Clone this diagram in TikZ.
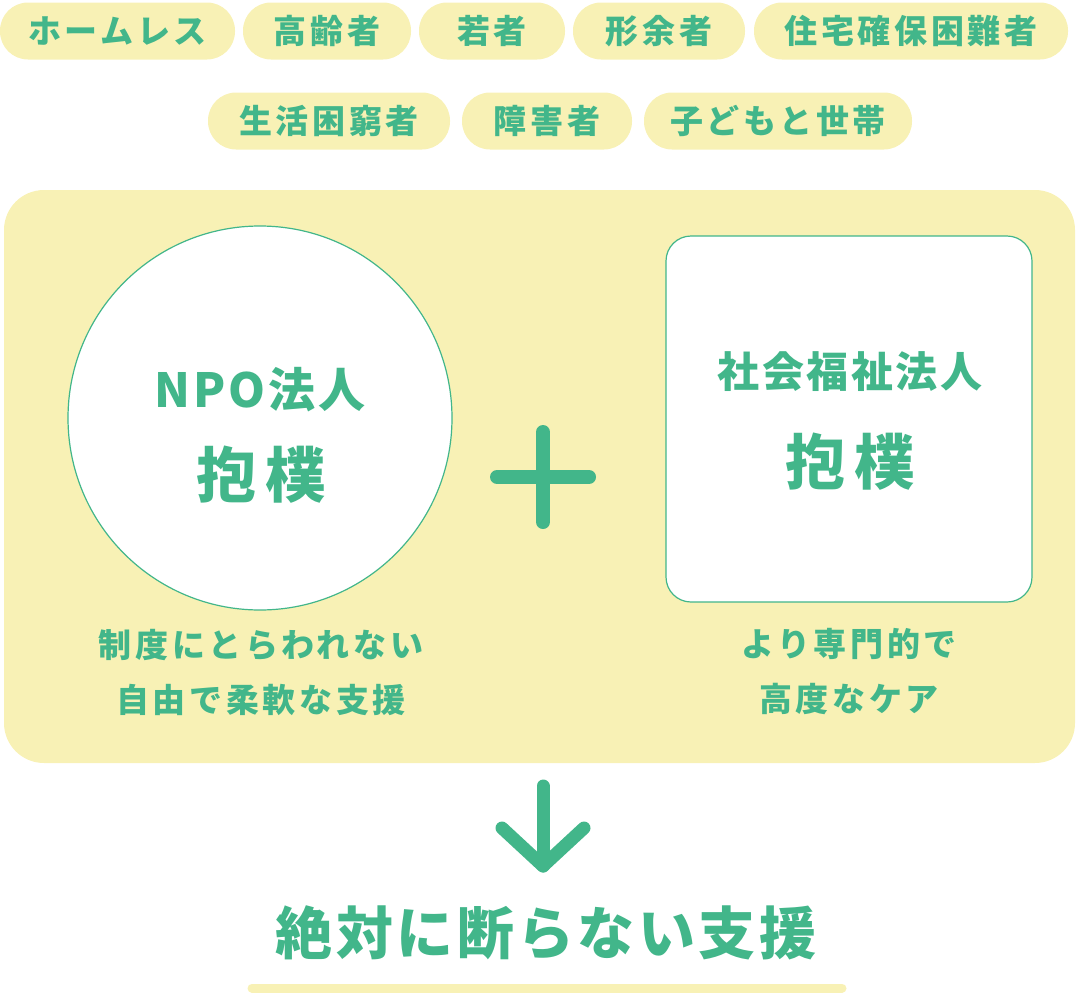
\documentclass[tikz,border=0pt]{standalone}
\usepackage{fontspec}
\newfontfamily\cjk{Noto Sans CJK JP}
\newfontfamily\cjkA{Noto Sans CJK JP}[LetterSpace=11]
\newfontfamily\cjkB{Noto Sans CJK JP}[LetterSpace=16]
\newfontfamily\cjkC{Noto Sans CJK JP}[LetterSpace=6]
\definecolor{grn}{HTML}{42B68A}
\definecolor{yel}{HTML}{F8F1B5}
\begin{document}
\begin{tikzpicture}[x=1pt,y=-1pt,
 pill/.style={fill=yel,rounded corners=28pt,minimum height=57pt,inner sep=0pt,text=grn,font=\cjkA\bfseries\fontsize{33}{38}\selectfont},
 txt/.style={text=grn,inner sep=0pt,align=center},
 big/.style={line width=14pt,line cap=round,line join=round,draw=grn}]
\useasboundingbox (0,0) rectangle (1076,996);
\node[pill,minimum width=235pt] (p1) at (117.5,31) {ホームレス};
\node[pill,minimum width=168pt] (p2) at (327,31) {高齢者};
\node[pill,minimum width=146pt] (p3) at (492,31) {若者};
\node[pill,minimum width=172pt] (p4) at (659,31) {形余者};
\node[pill,minimum width=314pt] (p5) at (911,31) {住宅確保困難者};
\node[pill,minimum width=242pt] (p6) at (329,121) {生活困窮者};
\node[pill,minimum width=170pt] (p7) at (547,121) {障害者};
\node[pill,minimum width=268pt] (p8) at (778,121) {子どもと世帯};
\node[fill=yel,rounded corners=40pt,minimum width=1071pt,minimum height=573pt,inner sep=0pt] (box) at (539.5,476.5) {};
\node[circle,draw=grn,line width=1.2pt,fill=white,minimum size=384pt,inner sep=0pt] (npo) at (260,418) {};
\node[txt,font=\cjkC\bfseries\fontsize{47}{54}\selectfont] (npot) at (260,390) {NPO法人};
\node[txt,font=\cjkB\bfseries\fontsize{60}{68}\selectfont] (npon) at (261,475) {抱樸};
\node[draw=grn,line width=1.2pt,fill=white,rounded corners=25pt,minimum size=366pt,inner sep=0pt] (sha) at (849,419) {};
\node[txt,font=\cjkC\bfseries\fontsize{42}{48}\selectfont] (shat) at (850,372) {社会福祉法人};
\node[txt,font=\cjkB\bfseries\fontsize{60}{68}\selectfont] (shan) at (850,462) {抱樸};
\coordinate (pl) at (497,477); \coordinate (pr) at (589,477);
\coordinate (pt) at (543,432); \coordinate (pb) at (543,522);
\draw[big] (pl) -- (pr); \draw[big] (pt) -- (pb);
\node[txt,font=\cjkA\bfseries\fontsize{33}{55}\selectfont] (c1) at (261,672) {制度にとらわれない\\自由で柔軟な支援};
\node[txt,font=\cjkA\bfseries\fontsize{33}{55}\selectfont] (c2) at (849,672) {より専門的で\\高度なケア};
\coordinate (a0) at (543,786); \coordinate (a1) at (543,866);
\coordinate (al) at (502,828); \coordinate (ar) at (584,828);
\draw[big,line width=13pt] (a0) -- (a1); \draw[big,line width=13pt] (al) -- (a1) -- (ar);
\node[txt,font=\cjkC\bfseries\fontsize{57}{64}\selectfont] (res) at (546,933) {絶対に断らない支援};
\coordinate (u0) at (252,988); \coordinate (u1) at (842,988);
\draw[yel,line width=9pt,line cap=round] (u0) -- (u1);
\end{tikzpicture}
\end{document}
